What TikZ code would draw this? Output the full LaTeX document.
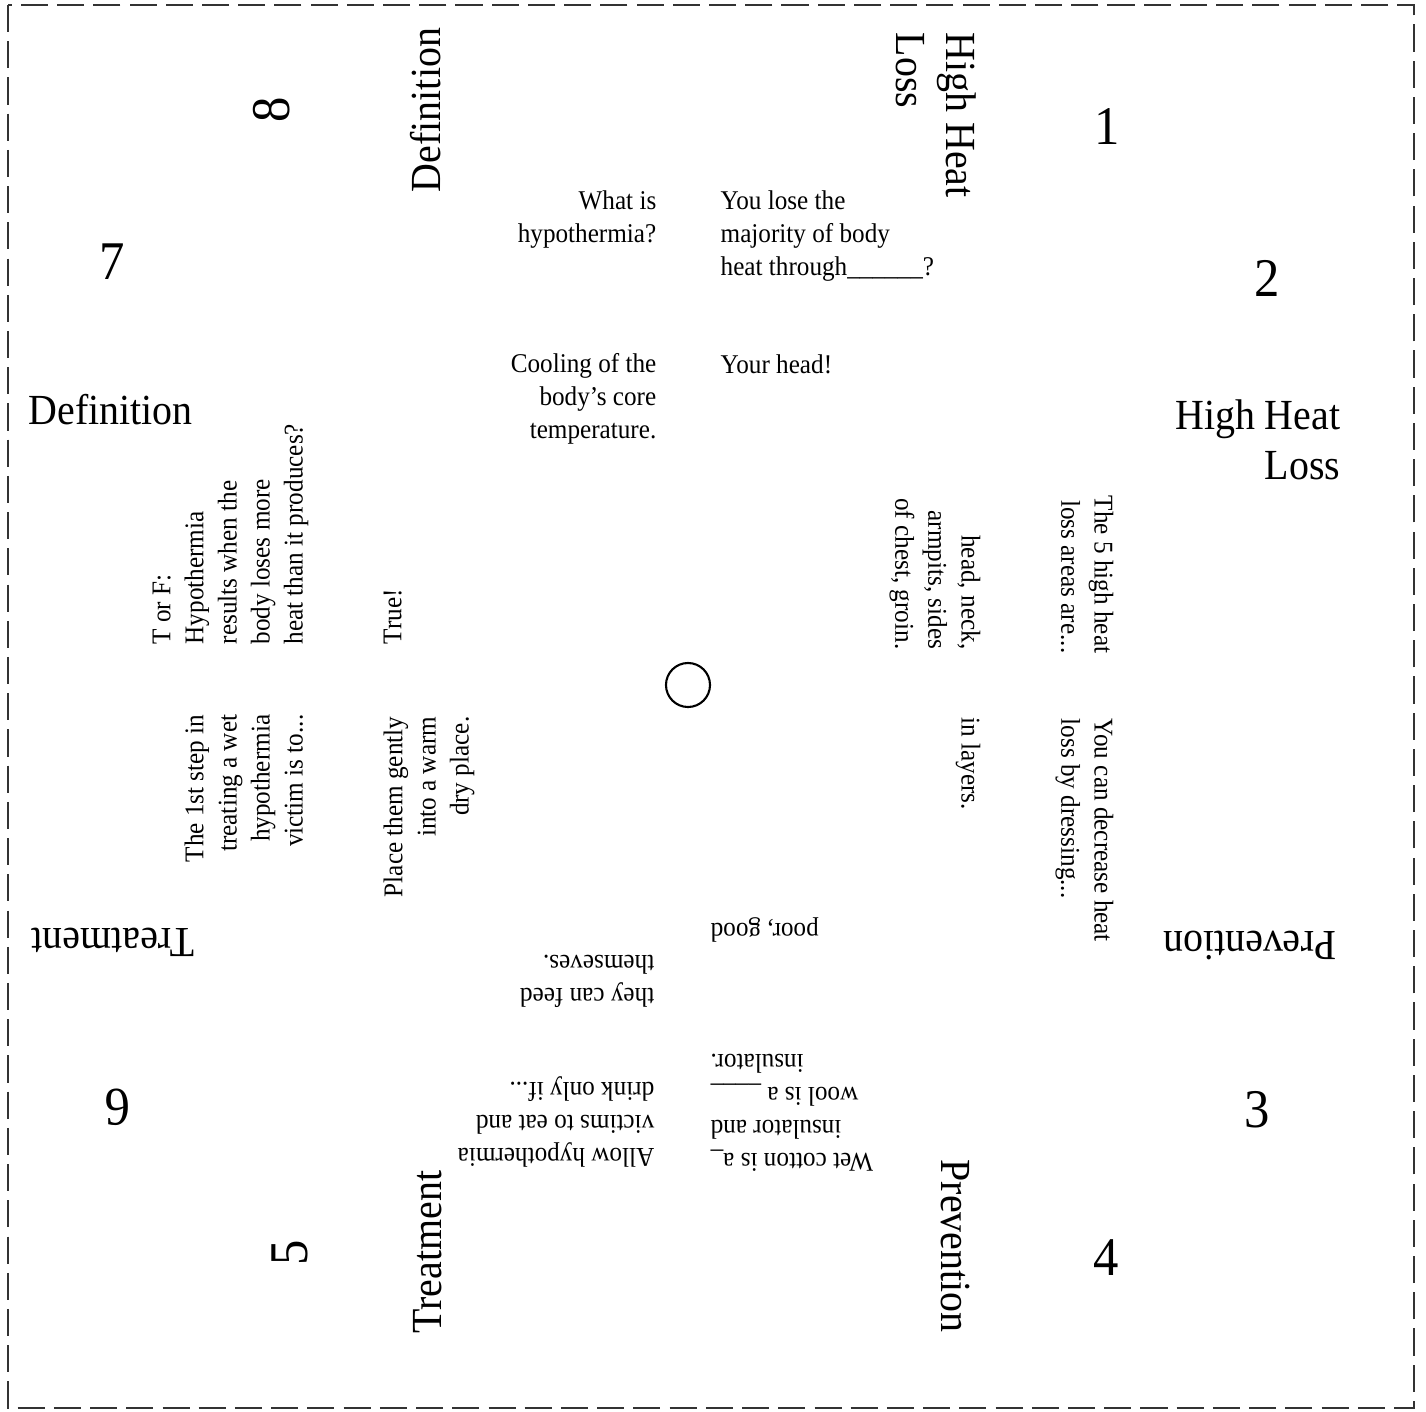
\documentclass[tikz,border=0pt]{standalone}
\usepackage{fontspec}
\setmainfont{Liberation Serif}[FakeStretch=0.93]
\usepackage{tikz}
\usetikzlibrary{positioning}

\begin{document}
\begin{tikzpicture}[
  x=0.01cm, y=-0.01cm,
  txt/.style={inner sep=0pt, font=\fontsize{7.7pt}{9.4pt}\selectfont},
  ttl/.style={inner sep=0pt, font=\fontsize{12.2pt}{14.2pt}\selectfont},
  num/.style={inner sep=0pt, font=\fontsize{15.5pt}{18pt}\selectfont},
  cut/.style={line width=0.6pt, draw=black!80, dash pattern=on 7.7pt off 2.6pt}
]
\useasboundingbox (0,0) rectangle (1426,1412);

%% ── outer cut line and centre ring ───────────────────────────────────
\draw[cut] (8,5) rectangle (1414,1408);
\node[circle, draw, line width=0.6pt, minimum size=0.44cm, inner sep=0pt] (hole) at (688,685) {};

%% ── TOP: upright question / answer flaps ─────────────────────────────
\node[txt, anchor=north east, align=right] (qdef) at (657,190) {What is\\hypothermia?};
\node[txt, anchor=north west, align=left]  (qhead) at (720,190) {You lose the\\majority of body\\heat through\_\_\_\_\_\_?};
\node[txt, anchor=north east, align=right] (adef) at (657,353) {Cooling of the\\body's core\\temperature.};
\node[txt, anchor=north west, align=left]  (ahead) at (720,354) {Your head!};

%% ── RIGHT: flaps turned clockwise ────────────────────────────────────
\node[txt, rotate=-90, anchor=north east, align=right] (qareas) at (1114,654) {The 5 high heat\\loss areas are...};
\node[txt, rotate=-90, anchor=north east, align=right] (aareas) at (981,650) {head, neck,\\armpits, sides\\of chest, groin.};
\node[txt, rotate=-90, anchor=north west, align=left]  (qdress) at (1114,718) {You can decrease heat\\loss by dressing...};
\node[txt, rotate=-90, anchor=north west, align=left]  (adress) at (981,717) {in layers.};

%% ── LEFT: flaps turned anticlockwise ─────────────────────────────────
\node[txt, rotate=90, anchor=north west, align=left]  (qtf) at (152,645) {T or F:\\Hypothermia\\results when the\\body loses more\\heat than it produces?};
\node[txt, rotate=90, anchor=north west, align=left]  (atf) at (383,645) {True!};
\node[txt, rotate=90, anchor=north east, align=right] (qstep) at (184,714) {The 1st step in\\treating a wet\\hypothermia\\victim is to...};
\node[txt, rotate=90, anchor=north east, align=right] (astep) at (383,716) {Place them gently\\into a warm\\dry place.};

%% ── BOTTOM: flaps upside down ────────────────────────────────────────
\node[txt, rotate=180, anchor=north east, align=right] (awool) at (710,943) {poor, good};
\node[txt, rotate=180, anchor=north west, align=left]  (afeed) at (655,1008) {they can feed\\themseves.};
\node[txt, rotate=180, anchor=north west, align=left]  (qfeed) at (655,1168) {Allow hypothermia\\victims to eat and\\drink only if...};
\node[txt, rotate=180, anchor=north east, align=right] (qwool) at (710,1172) {Wet cotton is a\_\\insulator and\\wool is a \_\_\_\_\\insulator.};

%% ── topic titles ─────────────────────────────────────────────────────
\node[ttl, rotate=90] (tdef1) at (426,110) {Definition};
\node[ttl, rotate=-90, anchor=north west, align=left] (theat1) at (977,32) {High Heat\\Loss};
\node[ttl, anchor=west] (tdef2) at (28,410) {Definition};
\node[ttl, anchor=north east, align=right] (theat2) at (1341,399) {High Heat\\Loss};
\node[ttl, rotate=180] (ttreat1) at (113,942) {Treatment};
\node[ttl, rotate=180] (tprev1) at (1250,945) {Prevention};
\node[ttl, rotate=90] (ttreat2) at (428,1252) {Treatment};
\node[ttl, rotate=-90] (tprev2) at (955,1246) {Prevention};

%% ── corner numbers ───────────────────────────────────────────────────
\node[num] (n1) at (1107,127) {1};
\node[num] (n2) at (1267,278) {2};
\node[num] (n3) at (1257,1110) {3};
\node[num] (n4) at (1106,1258) {4};
\node[num, rotate=90] (n5) at (290,1253) {5};
\node[num, rotate=180] (n6) at (118,1107) {6};
\node[num] (n7) at (112,262) {7};
\node[num, rotate=90] (n8) at (272,110) {8};

\end{tikzpicture}
\end{document}
